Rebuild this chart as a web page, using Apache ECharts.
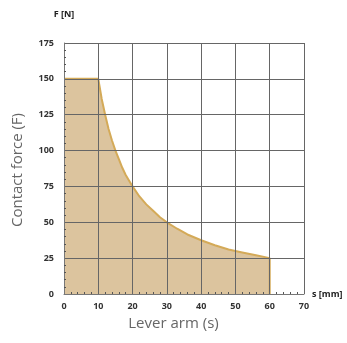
<!DOCTYPE html>
<html><head><meta charset="utf-8">
<script src="https://cdn.jsdelivr.net/npm/echarts@6/dist/echarts.min.js"></script>
<style>html,body{margin:0;padding:0;background:#fff}#c{width:347px;height:343px}</style>
</head><body><div id="c"></div>
<script>
const leverArm = [0, 10, 11, 12, 13, 14, 15, 16, 17, 18, 19, 20, 22, 24, 26, 28, 30, 33, 36, 40, 44, 48, 52, 56, 60, 60];
const contactForce = [150, 150, 136, 125, 115, 107, 100, 94, 88, 83, 79, 75, 68, 62.5, 58, 53.5, 50, 45.5, 41.5, 37.5, 34, 31, 29, 27, 25, 0];
const xTicks = [0, 10, 20, 30, 40, 50, 60, 70];
const yTicks = [0, 25, 50, 75, 100, 125, 150, 175];

const chart = echarts.init(document.getElementById('c'));
const lab = {color:'#333', fontSize:9, fontWeight:'bold', fontFamily:'Open Sans'};
chart.setOption({
  animation:false,
  grid:{left:64, right:43, top:43, bottom:49},
  xAxis:{type:'value', z:5, min:xTicks[0], max:xTicks[xTicks.length-1], interval:10,
    axisLine:{show:true, lineStyle:{color:'#777', width:1}},
    axisTick:{show:false, inside:true},
    minorTick:{show:true, splitNumber:5, length:2, lineStyle:{color:'#555'}},
    splitLine:{show:true, lineStyle:{color:'#666', width:1}},
    axisLabel:Object.assign({margin:8}, lab),
    name:'s [mm]', nameLocation:'end', nameGap:8,
    nameTextStyle:{color:'#222', fontSize:9, fontWeight:'bold', fontFamily:'Open Sans', verticalAlign:'middle'}
  },
  yAxis:{type:'value', z:5, min:yTicks[0], max:yTicks[yTicks.length-1], interval:25,
    axisLine:{show:true, lineStyle:{color:'#777', width:1}},
    axisTick:{show:false, inside:true},
    minorTick:{show:true, splitNumber:5, length:2, lineStyle:{color:'#555'}},
    splitLine:{show:true, lineStyle:{color:'#666', width:1}},
    axisLabel:Object.assign({margin:10}, lab),
    name:'F [N]', nameLocation:'end', nameGap:24,
    nameTextStyle:{color:'#222', fontSize:9, fontWeight:'bold', fontFamily:'Open Sans', align:'center'}
  },
  graphic:[
    {type:'text', left:'center', top:316, style:{text:'Lever arm (s)', fill:'#666', font:'15px "Open Sans"'}},
    {type:'text', x:18, y:170, rotation:Math.PI/2, style:{text:'Contact force (F)', fill:'#666', font:'15px "Open Sans"', align:'center', verticalAlign:'middle'}}
  ],
  series:[{
    type:'line', z:2, data:leverArm.map((x,i)=>[x, contactForce[i]]),
    showSymbol:false, smooth:false,
    lineStyle:{color:'#d4aa58', width:2},
    areaStyle:{color:'#dcc49e', opacity:1}
  }]
});
</script></body></html>
